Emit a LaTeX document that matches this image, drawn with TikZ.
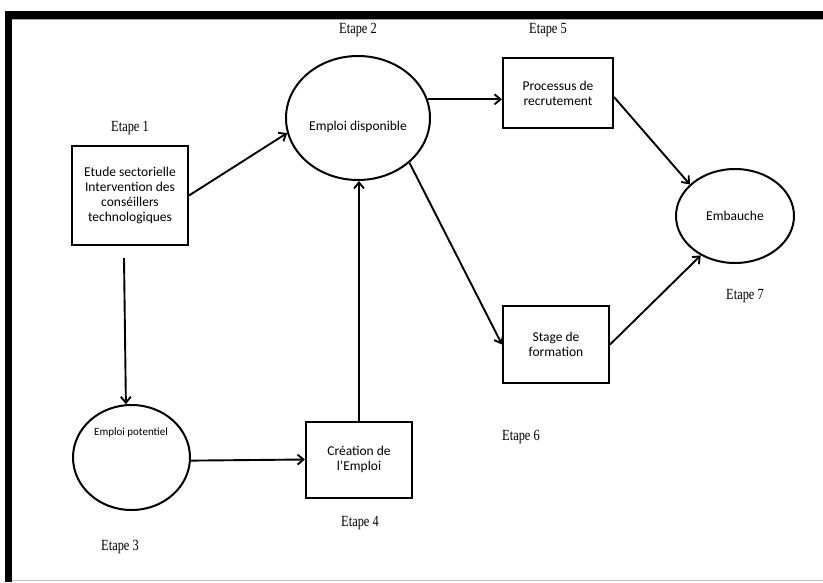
\documentclass[tikz,border=0pt]{standalone}
\usepackage{fontspec}
\setmainfont{Carlito}
\newfontfamily\etapefont[FakeStretch=0.8]{Liberation Serif}
\usetikzlibrary{shapes.geometric,arrows.meta}
\begin{document}
\begin{tikzpicture}[x=1pt,y=-1pt,
 box/.style={draw,line width=2pt,inner sep=0pt,align=center,font=\fontsize{13.5}{15}\selectfont},
 oval/.style={draw,ellipse,line width=2pt,inner sep=0pt,align=center,font=\fontsize{13.5}{15}\selectfont},
 etape/.style={font=\etapefont\fontsize{15.5}{16}\selectfont},
 arr/.style={line width=1.9pt,-{Straight Barb[length=6pt,width=10pt,line width=1.9pt]}}]
\useasboundingbox (0,0) rectangle (823,582);
\fill (5,11) rectangle (823,19);
\fill (5,11) rectangle (12,582);
\draw[gray!50,line width=0.8pt] (12,580.5) -- (823,580.5);
\draw[gray!70,line width=0.6pt] (12,19.4) -- (823,19.4);

% nodes
\node[box,minimum width=116pt,minimum height=99pt] (etude) at (130,195.5) {Etude sectorielle\\Intervention des\\conséillers\\technologiques};
\node[oval,minimum width=144pt,minimum height=124pt] (disp) at (358,118) {};
\node[font=\fontsize{13.5}{15}\selectfont] (disptext) at (358,127) {Emploi disponible};
\node[box,minimum width=110pt,minimum height=70pt] (proc) at (558,93) {Processus de\\recrutement};
\node[oval,minimum width=118pt,minimum height=94pt] (emb) at (735,216) {Embauche};
\node[box,minimum width=106pt,minimum height=77pt] (stage) at (556,344.5) {Stage de\\formation};
\node[oval,minimum width=117pt,minimum height=105pt] (pot) at (131.5,457.5) {};
\node[font=\fontsize{11}{12}\selectfont] (pottext) at (131,433) {Emploi potentiel};
\node[box,minimum width=106pt,minimum height=76pt] (crea) at (359,459.5) {Création de\\l'Emploi};

% labels
\node[etape] (e1) at (130,128) {Etape 1};
\node[etape] (e2) at (358,30) {Etape 2};
\node[etape] (e5) at (548,30) {Etape 5};
\node[etape] (e7) at (745,296) {Etape 7};
\node[etape] (e6) at (521,437) {Etape 6};
\node[etape] (e4) at (360,523) {Etape 4};
\node[etape] (e3) at (120,547) {Etape 3};

% connectors
\draw[arr] (etude.east) -- (disp.192);
\draw[arr] (disp.15) -- (disp.15 -| proc.west);
\draw[arr] ([yshift=-4pt]proc.east) -- (emb.145);
\draw[arr] (disp.-41) -- (stage.west);
\draw[arr] (stage.east) -- (emb.-131);
\draw[arr] ([xshift=-6pt,yshift=-12pt]etude.south) -- (pot.96);
\draw[arr] (pot.-3) -- (crea.west);
\draw[arr] (crea.north) -- (crea.north |- disp.south);
\end{tikzpicture}
\end{document}
